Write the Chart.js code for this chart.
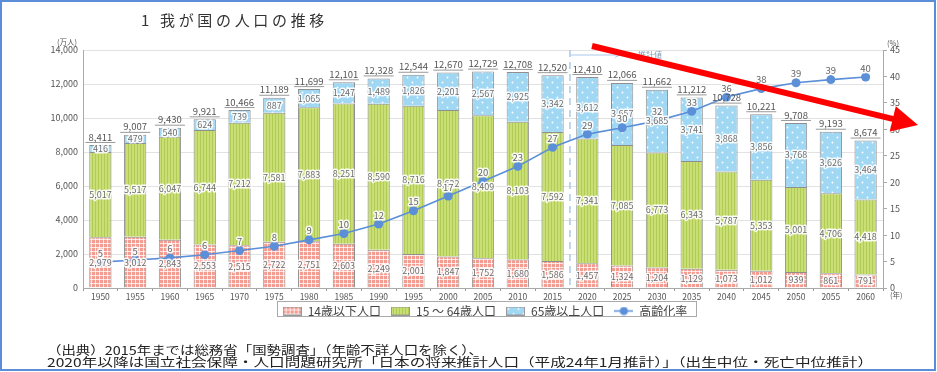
<!DOCTYPE html>
<html lang="ja">
<head>
<meta charset="utf-8">
<title>我が国の人口の推移</title>
<script src="https://cdn.jsdelivr.net/npm/chart.js@4.4.1/dist/chart.umd.min.js"></script>
<style>
  html, body { margin: 0; padding: 0; background: #fff; }
  body { width: 937px; height: 372px; position: relative; overflow: hidden;
         font-family: "Noto Sans CJK JP", "Noto Sans", sans-serif; color: #333; }
  #frame { position: absolute; left: 0; top: 0; width: 936px; height: 371px;
           box-sizing: border-box; border: 2px solid #5b8dd9; pointer-events: none; z-index: 3; }
  #pop { position: absolute; left: 0; top: 0; }
  .txt { position: absolute; white-space: nowrap; z-index: 2; transform-origin: 0 50%; }
  #t-num { left: 141px; top: 10px; font-size: 15px; line-height: 20px; }
  #t-main { left: 160px; top: 10px; font-size: 15px; line-height: 20px; }
  .note { left: 47px; font-size: 12px; line-height: 12px; color: #222; }
  #n1 { top: 344px; }
  #n2 { top: 356px; }
</style>
</head>
<body>
<div id="frame"></div>
<canvas id="pop" width="937" height="372"></canvas>
<div class="txt" id="t-num">1</div>
<div class="txt" id="t-main" data-space="168">我が国の人口の推移</div>
<div class="txt note" id="n1" data-scale="436">（出典）2015年までは総務省「国勢調査」（年齢不詳人口を除く）、</div>
<div class="txt note" id="n2" data-scale="826">2020年以降は国立社会保障・人口問題研究所「日本の将来推計人口（平成24年1月推計）」（出生中位・死亡中位推計）</div>
<script>
'use strict';

// ── data (万人 / %) ──
const years = ['1950', '1955', '1960', '1965', '1970', '1975', '1980', '1985', '1990', '1995', '2000', '2005',
  '2010', '2015', '2020', '2025', '2030', '2035', '2040', '2045', '2050', '2055', '2060'];
const under14 = [2979, 3012, 2843, 2553, 2515, 2722, 2751, 2603, 2249, 2001, 1847, 1752,
  1680, 1586, 1457, 1324, 1204, 1129, 1073, 1012, 939, 861, 791];
const age15to64 = [5017, 5517, 6047, 6744, 7212, 7581, 7883, 8251, 8590, 8716, 8622, 8409,
  8103, 7592, 7341, 7085, 6773, 6343, 5787, 5353, 5001, 4706, 4418];
const over65 = [416, 479, 540, 624, 739, 887, 1065, 1247, 1489, 1826, 2201, 2567,
  2925, 3342, 3612, 3657, 3685, 3741, 3868, 3856, 3768, 3626, 3464];
const totals = [8411, 9007, 9430, 9921, 10466, 11189, 11699, 12101, 12328, 12544, 12670, 12729,
  12708, 12520, 12410, 12066, 11662, 11212, 10728, 10221, 9708, 9193, 8674];
const agingRate = [4.9, 5.3, 5.7, 6.3, 7.1, 7.9, 9.1, 10.3, 12.1, 14.6, 17.4, 20.2,
  23.0, 26.6, 29.1, 30.3, 31.6, 33.4, 36.1, 37.7, 38.8, 39.4, 39.9];
const seriesNames = ['14歳以下人口', '15 〜 64歳人口', '65歳以上人口', '高齢化率'];
const lastActualIdx = 13;   // 2015 — projections start after this
const FONT = '"Noto Sans CJK JP", "Noto Sans", sans-serif';

// fit the html texts to the width they take in the original
document.querySelectorAll('[data-space]').forEach(el => {
  const have = el.getBoundingClientRect().width;
  el.style.letterSpacing = ((Number(el.dataset.space) - have) / el.textContent.length) + 'px';
});
document.querySelectorAll('[data-scale]').forEach(el => {
  const have = el.getBoundingClientRect().width;
  el.style.transform = 'scaleX(' + (Number(el.dataset.scale) / have) + ')';
});

// ── fill patterns ──
function tile(w, h, paint) {
  const c = document.createElement('canvas');
  c.width = w; c.height = h;
  paint(c.getContext('2d'));
  return c;
}
const pinkTile = tile(4, 4, g => {
  g.fillStyle = '#f29c92'; g.fillRect(0, 0, 4, 4);
  g.fillStyle = 'rgba(255,255,255,.75)'; g.fillRect(3, 0, 1, 4); g.fillRect(0, 3, 4, 1);
});
const greenTile = tile(3, 3, g => {
  g.fillStyle = '#c9df76'; g.fillRect(0, 0, 3, 3);
  g.fillStyle = '#b0cc55'; g.fillRect(2, 0, 1, 3);
});
const blueTile = tile(10, 10, g => {
  g.fillStyle = '#a0d8f4'; g.fillRect(0, 0, 10, 10);
  g.fillStyle = '#ffffff';
  g.beginPath(); g.arc(2.5, 2.5, 0.9, 0, Math.PI * 2); g.arc(7.5, 7.5, 0.9, 0, Math.PI * 2); g.fill();
});
const ctx0 = document.getElementById('pop').getContext('2d');
const pinkFill = ctx0.createPattern(pinkTile, 'repeat');
const greenFill = ctx0.createPattern(greenTile, 'repeat');
const blueFill = ctx0.createPattern(blueTile, 'repeat');
const lineBlue = '#5b8fd8';

// legend swatches
const swatch = t => tile(19, 9, g => {
  g.fillStyle = g.createPattern(t, 'repeat');
  g.fillRect(0, 0, 19, 9);
  g.strokeStyle = '#999'; g.lineWidth = 1; g.strokeRect(0.5, 0.5, 18, 8);
});
const lineSwatch = tile(19, 9, g => {
  g.strokeStyle = lineBlue; g.lineWidth = 1.5;
  g.beginPath(); g.moveTo(0, 4.5); g.lineTo(19, 4.5); g.stroke();
  g.fillStyle = lineBlue; g.beginPath(); g.arc(9.5, 4.5, 4, 0, Math.PI * 2); g.fill();
});
const legendIcons = [swatch(pinkTile), swatch(greenTile), swatch(blueTile), lineSwatch];

const fmt = v => Number(v).toLocaleString('en-US');

// ── numbers on bars, totals, rate labels ──
const valueLabels = {
  id: 'valueLabels',
  afterDatasetsDraw(chart) {
    const ctx = chart.ctx;
    ctx.save();
    ctx.textAlign = 'center';
    ctx.textBaseline = 'middle';
    ctx.lineJoin = 'round';
    ctx.font = '9px ' + FONT;
    [0, 1, 2].forEach(di => {
      chart.getDatasetMeta(di).data.forEach((bar, i) => {
        const p = bar.getProps(['x', 'y', 'base'], true);
        const txt = fmt(chart.data.datasets[di].data[i]);
        const cy = (p.y + p.base) / 2;
        ctx.lineWidth = 3; ctx.strokeStyle = 'rgba(255,255,255,.9)';
        ctx.strokeText(txt, p.x, cy);
        ctx.fillStyle = '#6d6d6d';
        ctx.fillText(txt, p.x, cy);
      });
    });
    // totals over each bar, underlined
    ctx.font = '9.5px ' + FONT;
    chart.getDatasetMeta(2).data.forEach((bar, i) => {
      const p = bar.getProps(['x', 'y'], true);
      ctx.fillStyle = '#555';
      ctx.fillText(fmt(totals[i]), p.x, p.y - 8);
      ctx.strokeStyle = '#999'; ctx.lineWidth = 1;
      ctx.beginPath(); ctx.moveTo(p.x - 15, p.y - 2.5); ctx.lineTo(p.x + 15, p.y - 2.5); ctx.stroke();
    });
    // 高齢化率
    chart.getDatasetMeta(3).data.forEach((pt, i) => {
      const txt = String(Math.round(agingRate[i]));
      ctx.lineWidth = 3; ctx.strokeStyle = 'rgba(255,255,255,.9)';
      ctx.strokeText(txt, pt.x, pt.y - 9);
      ctx.fillStyle = '#666';
      ctx.fillText(txt, pt.x, pt.y - 9);
    });
    ctx.restore();
  }
};

// dashed divider between 実績 and 推計値
const projectionMark = {
  id: 'projectionMark',
  beforeDatasetsDraw(chart) {
    const { ctx, chartArea: a, scales: { x } } = chart;
    const px = (x.getPixelForValue(lastActualIdx) + x.getPixelForValue(lastActualIdx + 1)) / 2;
    ctx.save();
    ctx.strokeStyle = '#a9c9ea';
    ctx.lineWidth = 1.5;
    ctx.setLineDash([7, 5]);
    ctx.beginPath(); ctx.moveTo(px, a.top); ctx.lineTo(px, a.bottom); ctx.stroke();
    ctx.setLineDash([]);
    ctx.lineWidth = 1;
    ctx.beginPath(); ctx.moveTo(px, a.top + 5); ctx.lineTo(px + 50, a.top + 5); ctx.stroke();
    ctx.beginPath(); ctx.moveTo(px + 45, a.top + 2.5); ctx.lineTo(px + 50, a.top + 5); ctx.lineTo(px + 45, a.top + 7.5); ctx.stroke();
    ctx.fillStyle = '#7f9cbc';
    ctx.font = '8px ' + FONT;
    ctx.textBaseline = 'middle';
    ctx.fillText('推計値', px + 68, a.top + 5);
    ctx.restore();
  }
};

// the x labels need a 14px scale box (they are clipped to it), so the
// legend is lifted back up to where it sits in the original
const liftLegend = {
  id: 'liftLegend',
  afterLayout(chart) {
    chart.legend.top -= 7;
    chart.legend.bottom -= 7;
  }
};

// unit captions, legend frame and the red trend arrow
const decorations = {
  id: 'decorations',
  afterDraw(chart) {
    const { ctx, chartArea: a } = chart;
    ctx.save();
    ctx.fillStyle = '#555';
    ctx.font = '7.5px ' + FONT;
    ctx.textBaseline = 'middle';
    ctx.textAlign = 'left';
    ctx.fillText('(万人)', a.left - 26, a.top - 8);
    ctx.fillText('(%)', a.right + 4, a.top - 7);
    ctx.fillText('(年)', a.right + 7, a.bottom + 7);

    const hb = chart.legend.legendHitBoxes;
    if (hb && hb.length) {
      const l = Math.min(...hb.map(h => h.left)) - 6;
      const r = Math.max(...hb.map(h => h.left + h.width)) + 8;
      const t = hb[0].top - 4;
      ctx.strokeStyle = '#aaa'; ctx.lineWidth = 1;
      ctx.strokeRect(Math.round(l) + 0.5, Math.round(t) + 0.5, Math.round(r - l), 15);
    }

    // red arrow
    const x0 = 592, y0 = 46, x1 = 918, y1 = 125;
    const ang = Math.atan2(y1 - y0, x1 - x0);
    const head = 26, half = 13;
    const bx = x1 - head * Math.cos(ang), by = y1 - head * Math.sin(ang);
    ctx.strokeStyle = '#ff0000'; ctx.fillStyle = '#ff0000';
    ctx.lineWidth = 6;
    ctx.beginPath(); ctx.moveTo(x0, y0); ctx.lineTo(bx + 2 * Math.cos(ang), by + 2 * Math.sin(ang)); ctx.stroke();
    ctx.beginPath();
    ctx.moveTo(x1, y1);
    ctx.lineTo(bx + half * Math.sin(ang), by - half * Math.cos(ang));
    ctx.lineTo(bx - half * Math.sin(ang), by + half * Math.cos(ang));
    ctx.closePath(); ctx.fill();
    ctx.restore();
  }
};

const barBase = { type: 'bar', stack: 'pop', yAxisID: 'y', borderColor: '#8f8f8f', borderWidth: 1,
  barPercentage: 0.64, categoryPercentage: 1, order: 1 };

new Chart(document.getElementById('pop'), {
  data: {
    labels: years,
    datasets: [
      Object.assign({ label: seriesNames[0], data: under14, backgroundColor: pinkFill }, barBase),
      Object.assign({ label: seriesNames[1], data: age15to64, backgroundColor: greenFill }, barBase),
      Object.assign({ label: seriesNames[2], data: over65, backgroundColor: blueFill }, barBase),
      { type: 'line', label: seriesNames[3], data: agingRate, yAxisID: 'y1', order: 0,
        borderColor: lineBlue, backgroundColor: lineBlue, borderWidth: 1.6, tension: 0,
        pointRadius: 4.5, pointBorderWidth: 0, pointBackgroundColor: lineBlue }
    ]
  },
  options: {
    responsive: false,
    animation: false,
    devicePixelRatio: 1,
    layout: { padding: { left: 33, right: 0, top: 50, bottom: 38 } },
    plugins: {
      tooltip: { enabled: false },
      legend: {
        position: 'bottom',
        labels: {
          usePointStyle: true,
          pointStyleWidth: 19,
          boxHeight: 9,
          padding: 10,
          color: '#444',
          font: { family: FONT, size: 12 },
          sort: (a, b) => a.datasetIndex - b.datasetIndex,
          generateLabels(chart) {
            return Chart.defaults.plugins.legend.labels.generateLabels(chart)
              .map(it => Object.assign(it, { pointStyle: legendIcons[it.datasetIndex] }));
          }
        }
      }
    },
    scales: {
      x: {
        stacked: true,
        offset: true,
        grid: { display: true, drawOnChartArea: false, tickLength: 3, color: '#999', offset: true },
        border: { color: '#aaa' },
        ticks: { color: '#555', font: { family: FONT, size: 8.5 }, padding: 1, autoSkip: false, maxRotation: 0 },
        afterFit(s) { s.height = 14; }
      },
      y: {
        stacked: true,
        min: 0, max: 14000,
        grid: { color: '#e2e2e2', drawTicks: false },
        border: { color: '#aaa' },
        ticks: { stepSize: 2000, color: '#555', font: { family: FONT, size: 9 }, padding: 5, callback: v => fmt(v) },
        afterFit(s) { s.width = 50; }
      },
      y1: {
        position: 'right',
        min: 0, max: 45,
        grid: { drawOnChartArea: false, tickLength: 4, color: '#aaa' },
        border: { color: '#aaa' },
        ticks: { stepSize: 5, color: '#555', font: { family: FONT, size: 9 }, padding: 3 },
        afterFit(s) { s.width = 54; }
      }
    }
  },
  plugins: [liftLegend, projectionMark, valueLabels, decorations]
});
</script>
</body>
</html>
